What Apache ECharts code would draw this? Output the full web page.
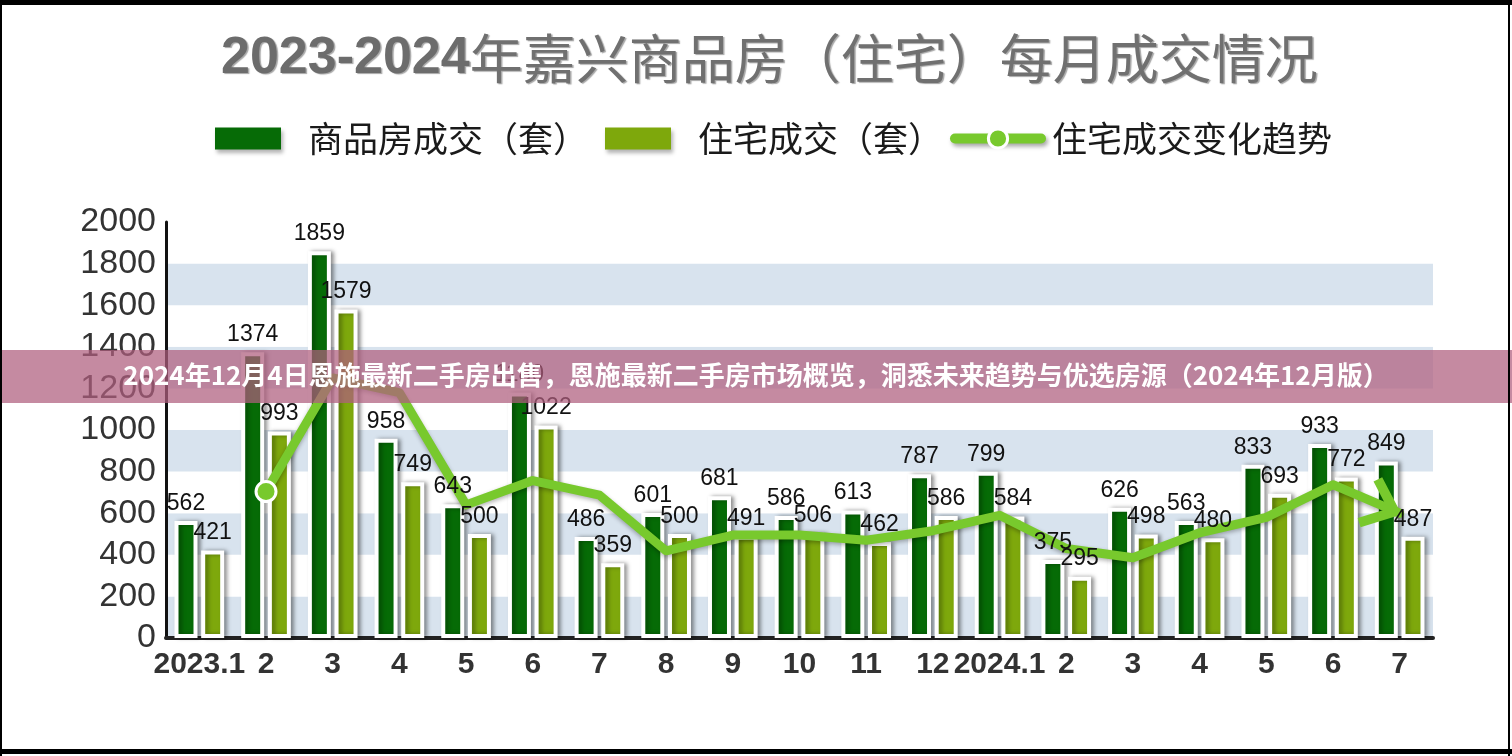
<!DOCTYPE html>
<html><head><meta charset="utf-8">
<script src="https://cdn.jsdelivr.net/npm/echarts@6/dist/echarts.min.js"></script>
<style>html,body{margin:0;padding:0;background:#fff}#c{width:1512px;height:756px}</style>
</head><body><div id="c"></div>
<script>
const categories = ['2023.1','2','3','4','5','6','7','8','9','10','11','12','2024.1','2','3','4','5','6','7'];
const commercial = [562,1374,1859,958,643,1180,486,601,681,586,613,787,799,375,626,563,833,933,849];
const residential = [421,993,1579,749,500,1022,359,500,491,506,462,586,584,295,498,480,693,772,487];
const trend = [null,704,1250,1180,640,757,687,419,495,495,470,516,590,430,386,506,580,737,600];
const yTicks = [0,2000,200];
const titleYears = '2023-2024';
const titleRest = '年嘉兴商品房（住宅）每月成交情况';
const names = ['商品房成交（套）','住宅成交（套）','住宅成交变化趋势'];
const banner = '2024年12月4日恩施最新二手房出售，恩施最新二手房市场概览，洞悉未来趋势与优选房源（2024年12月版）';

const DARK = '#066b06', LIGHT = '#7ea80c', LINE = '#78c92d';
const CHEVRON = 'path://M24,1 L42,36 L4,48 L1.3,39.4 L29.1,30.6 L16,5.1 Z';
const chart = echarts.init(document.getElementById('c'));
const trendData = trend.map((v,i)=>{
  if (i === 1) return {value:v, symbol:'circle', symbolSize:20};
  if (i === trend.length-1) return {value:v, symbol:CHEVRON, symbolSize:[44,50], symbolOffset:[-20,-11], itemStyle:{borderWidth:0}};
  return {value:v, symbol:'none'};
});
const barLabel = {show:true, position:'top', distance:6, color:'#111', fontSize:23, fontFamily:'Liberation Sans, Arial'};
const legendText = {fontSize:35, color:'#1a1a1a', fontFamily:'Noto Sans CJK SC', padding:[0,0,0,22]};
const legendShadow = {shadowColor:'rgba(0,0,0,0.3)', shadowBlur:4, shadowOffsetX:2, shadowOffsetY:3};
const shadowTxt = {textShadowColor:'rgba(0,0,0,0.35)', textShadowOffsetX:1.5, textShadowOffsetY:1.5, textShadowBlur:1};
const barShadow = {borderColor:'#fff', borderWidth:4, shadowColor:'rgba(0,0,0,0.35)', shadowBlur:4, shadowOffsetX:3};
const xAxisBase = {
  type:'category', data:categories,
  axisLine:{lineStyle:{color:'#222', width:4}},
  axisTick:{show:false},
  axisLabel:{interval:0, color:'#333', fontSize:30, fontWeight:'bold', fontFamily:'Liberation Sans, Arial', margin:12}
};
chart.setOption({
  animation:false,
  backgroundColor:'#fff',
  title:{
    text:'{a|'+titleYears+'}{b|'+titleRest+'}', left:216, top:27,
    textStyle:{rich:{
      a:Object.assign({fontSize:52, fontWeight:'bold', color:'#6c6c6c', fontFamily:'Liberation Sans, Arial'}, shadowTxt),
      b:Object.assign({fontSize:53, fontWeight:'normal', color:'#707070', fontFamily:'Noto Sans CJK SC'}, shadowTxt)
    }}
  },
  legend:[
    {data:[names[0]], icon:'rect', left:210, top:116, itemWidth:66, itemHeight:22, textStyle:legendText, itemStyle:Object.assign({borderWidth:0}, legendShadow)},
    {data:[names[1]], icon:'rect', left:600, top:116, itemWidth:66, itemHeight:22, textStyle:legendText, itemStyle:Object.assign({borderWidth:0}, legendShadow)},
    {data:[names[2]], left:945, top:116, itemWidth:86, itemHeight:24, textStyle:Object.assign({}, legendText, {padding:[0,0,0,6]}),
     lineStyle:{width:10, cap:'round', shadowColor:'rgba(0,0,0,0.35)', shadowBlur:4, shadowOffsetX:2, shadowOffsetY:3},
     itemStyle:{color:LINE, borderColor:'#fff', borderWidth:3}}
  ],
  grid:{left:166, right:79, top:222, bottom:118, containLabel:false},
  xAxis:[
    xAxisBase,
    Object.assign({}, xAxisBase, {show:false})
  ],
  yAxis:{
    type:'value', min:yTicks[0], max:yTicks[1], interval:yTicks[2],
    axisLine:{show:true, lineStyle:{color:'#111', width:3}},
    axisTick:{show:false},
    splitLine:{show:false},
    splitArea:{show:true, areaStyle:{color:['#d8e3ee','#ffffff']}},
    axisLabel:{color:'#333', fontSize:34, fontFamily:'Liberation Sans, Arial', margin:10, formatter:v=>String(v)}
  },
  series:[
    {name:names[0], type:'bar', data:commercial, barWidth:23, barGap:'16%', z:2,
     itemStyle:Object.assign({color:DARK}, barShadow)},
    {name:names[1], type:'bar', data:residential, barWidth:23, z:2,
     itemStyle:Object.assign({color:LIGHT}, barShadow)},
    {name:names[2], type:'line', data:trendData, symbol:'circle', symbolSize:20, z:5,
     lineStyle:{color:LINE, width:9, cap:'round', join:'round', shadowColor:'rgba(0,0,0,0.3)', shadowBlur:4, shadowOffsetY:2},
     itemStyle:{color:LINE, borderColor:'#fff', borderWidth:3}},
    {name:'lab0', type:'bar', xAxisIndex:1, data:commercial, barWidth:23, barGap:'16%', z:10, silent:true,
     itemStyle:{color:'rgba(0,0,0,0)'}, label:barLabel},
    {name:'lab1', type:'bar', xAxisIndex:1, data:residential, barWidth:23, z:10, silent:true,
     itemStyle:{color:'rgba(0,0,0,0)'}, label:barLabel}
  ],
  graphic:[
    {type:'rect', left:0, top:350, z:100, shape:{width:1512, height:53}, style:{fill:'rgba(175,94,126,0.73)'}},
    {type:'text', left:'center', top:362, z:101, style:{text:banner, fill:'#fff', font:'bold 26px "Noto Sans CJK SC"'}},
    {type:'rect', left:0, top:0, z:102, shape:{width:1512, height:5}, style:{fill:'#000'}},
    {type:'rect', left:0, top:749, z:102, shape:{width:1512, height:5}, style:{fill:'#000'}},
    {type:'rect', left:0, top:0, z:102, shape:{width:2, height:756}, style:{fill:'#000'}},
    {type:'rect', left:1508, top:0, z:102, shape:{width:2, height:756}, style:{fill:'#000'}}
  ]
});
</script></body></html>
